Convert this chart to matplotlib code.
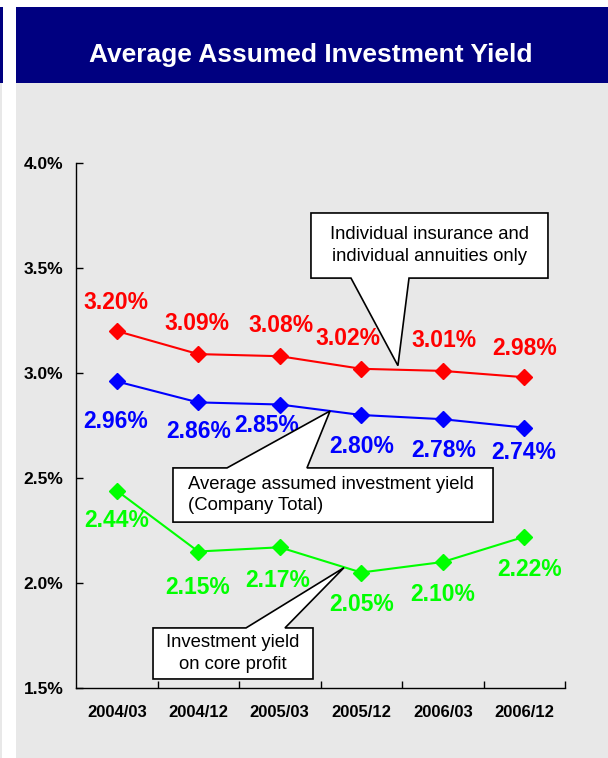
import matplotlib
matplotlib.use("Agg")
import matplotlib.pyplot as plt
from matplotlib.patches import Rectangle, Polygon

plt.rcParams['font.family'] = ['Liberation Sans', 'DejaVu Sans']

# Fiscal period labels and yields (%)
periods = ["2004/03", "2004/12", "2005/03", "2005/12", "2006/03", "2006/12"]
individual_yield = [3.20, 3.09, 3.08, 3.02, 3.01, 2.98]
company_yield = [2.96, 2.86, 2.85, 2.80, 2.78, 2.74]
core_profit_yield = [2.44, 2.15, 2.17, 2.05, 2.10, 2.22]

# Label offsets from each marker, in pixels (x right, y down)
individual_offsets = [(-1, -29), (-1, -31), (1, -31), (-13, -30), (1, -30), (0, -29)]
company_offsets = [(-1, 40), (0, 29), (-13, 21), (0, 31), (1, 31), (-1, 25)]
core_offsets = [(0, 30), (-1, 36), (-2, 33), (0, 32), (0, 32), (5, 33)]

W, H = 608, 758
fig = plt.figure(figsize=(W / 100, H / 100), dpi=100)
fig.patch.set_facecolor("white")


def fig_rect(x0, y0, x1, y1, color):
    # rectangle given in pixel coords from the top-left corner
    fig.patches.append(Rectangle((x0 / W, 1 - y1 / H), (x1 - x0) / W, (y1 - y0) / H,
                                 transform=fig.transFigure, facecolor=color,
                                 edgecolor="none", zorder=-10))


fig_rect(16, 83, W, H, "#E8E8E8")
fig_rect(16, 7, W, 83, "#000080")
fig_rect(0, 7, 3, 83, "#000080")
fig_rect(0, 83, 2, H, "#E8E8E8")

fig.text(311 / W, 1 - 62 / H, "Average Assumed Investment Yield", color="white",
         fontsize=19, fontweight="bold", ha="center", va="baseline")

ax = fig.add_axes([76 / W, 1 - 688 / H, (565 - 76) / W, (688 - 163) / H])
ax.set_facecolor("none")
x = list(range(len(periods)))

series = [
    (individual_yield, individual_offsets, "#FF0000"),
    (company_yield, company_offsets, "#0000FF"),
    (core_profit_yield, core_offsets, "#00FF00"),
]
for values, offsets, color in series:
    ax.plot(x, values, color=color, lw=1.5, marker="D", markersize=8,
            markeredgecolor=color, zorder=3)
    for xi, v, (dx, dy) in zip(x, values, offsets):
        ax.annotate(f"{v:.2f}%", (xi, v), xytext=(dx * 0.72, -dy * 0.72),
                    textcoords="offset points", ha="center", va="center",
                    color=color, fontsize=16.5, fontweight="bold", zorder=4)

ax.set_xlim(-0.5, len(periods) - 0.5)
ax.set_ylim(1.5, 4.0)
ax.set_xticks(x)
ax.set_xticklabels(periods, fontsize=12, fontweight="bold")
ax.set_xticks([i + 0.5 for i in x], minor=True)
ax.tick_params(axis="x", which="major", length=0, pad=12)
ax.tick_params(axis="x", which="minor", direction="in", length=5, width=1)
yticks = [1.5, 2.0, 2.5, 3.0, 3.5, 4.0]
ax.set_yticks(yticks)
ax.set_yticklabels([f"{t:.1f}%" for t in yticks], fontsize=12.5, fontweight="bold")
ax.tick_params(axis="y", direction="in", length=5, width=1, pad=9)
for side in ("top", "right"):
    ax.spines[side].set_visible(False)
for side in ("left", "bottom"):
    ax.spines[side].set_linewidth(1)


def callout(left, right, top, bottom, base_l, base_r, tip, edge):
    # white box with a wedge running from one edge to the tip point
    if edge == "top":
        pts = [(left, bottom), (right, bottom), (right, top), (base_r, top),
               tip, (base_l, top), (left, top)]
    else:
        pts = [(left, top), (right, top), (right, bottom), (base_r, bottom),
               tip, (base_l, bottom), (left, bottom)]
    ax.add_patch(Polygon(pts, closed=True, facecolor="white", edgecolor="black",
                         lw=1.2, clip_on=False, zorder=5))


note_style = dict(va="center", fontsize=13.3, linespacing=1.38, zorder=6)

callout(2.383, 5.291, 3.762, 3.452, 2.874, 3.586, (3.45, 3.035), "bottom")
ax.text((2.383 + 5.291) / 2, (3.762 + 3.452) / 2,
        "Individual insurance and\nindividual annuities only",
        ha="center", **note_style)

callout(0.69, 4.617, 2.548, 2.290, 1.353, 2.334, (2.617, 2.819), "top")
ax.text(0.69 + 0.18, (2.548 + 2.290) / 2,
        "Average assumed investment yield\n(Company Total)",
        ha="left", **note_style)

callout(0.445, 2.408, 1.786, 1.543, 1.586, 2.064, (2.788, 2.073), "top")
ax.text((0.445 + 2.408) / 2, (1.786 + 1.543) / 2,
        "Investment yield\non core profit",
        ha="center", **note_style)

fig.savefig("out.png", dpi=100)
